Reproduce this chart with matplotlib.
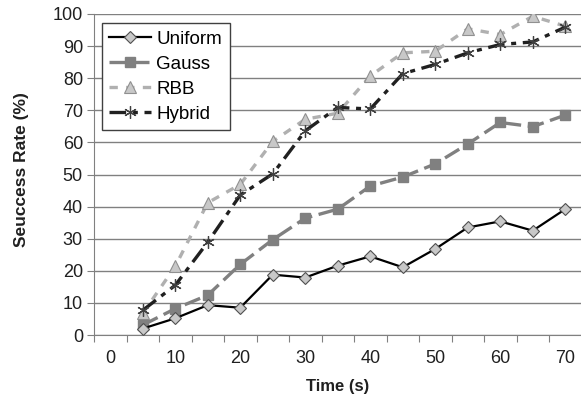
import matplotlib
matplotlib.use("Agg")
import matplotlib.pyplot as plt

plt.rcParams['font.family'] = ['Liberation Sans', 'DejaVu Sans']

times = [5, 10, 15, 20, 25, 30, 35, 40, 45, 50, 55, 60, 65, 70]
uniform = [2.0, 5.2, 9.3, 8.5, 18.8, 17.9, 21.6, 24.5, 21.1, 26.8, 33.5, 35.4, 32.5, 39.2]
gauss = [3.1, 8.2, 12.4, 22.0, 29.7, 36.4, 39.2, 46.4, 49.2, 53.3, 59.5, 66.2, 64.9, 68.5]
rbb = [6.7, 21.4, 41.2, 46.9, 60.3, 67.2, 69.1, 80.7, 87.9, 88.4, 95.4, 93.6, 99.3, 96.2]
hybrid = [7.7, 15.5, 28.9, 43.6, 50.2, 63.6, 70.9, 70.4, 81.4, 84.3, 87.9, 90.5, 91.3, 95.9]
xlabels = [0, 10, 20, 30, 40, 50, 60, 70]
yticks = [0, 10, 20, 30, 40, 50, 60, 70, 80, 90, 100]

fig = plt.figure(figsize=(5.81, 4.0), dpi=100)
ax = fig.add_axes([94/581, 65/400, (581.5-94)/581, (335-14)/400])

ax.plot(times, uniform, color='black', lw=1.6, marker='D', ms=6,
        mfc='#c8c8c8', mec='#505050', mew=0.8, label='Uniform', zorder=5)
ax.plot(times, gauss, color='#808080', lw=2.4, dashes=(5, 2), marker='s', ms=7,
        mfc='#808080', mec='#808080', label='Gauss', zorder=4)
ax.plot(times, rbb, color='#b0b0b0', lw=2.4, dashes=(2.5, 2.5), marker='^', ms=9,
        mfc='#c8c8c8', mec='#909090', mew=0.8, label='RBB', zorder=3)
ax.plot(times, hybrid, color='#202020', lw=2.4, dashes=(5, 2, 1.5, 2), marker=(6, 2, 0), ms=9,
        mfc='none', mec='#404040', mew=0.9, label='Hybrid', zorder=4)

ax.set_xlim(-2.5, 72.5)
ax.set_ylim(0, 100)
ax.set_yticks(yticks)
ax.tick_params(axis='y', direction='out', length=5, color='#808080', labelsize=13,
               pad=3, labelcolor='#202020')
ax.set_xticks([x - 2.5 for x in range(0, 80, 5)] + [72.5])
ax.set_xticklabels([])
ax.tick_params(axis='x', direction='out', length=5, color='#808080')
for v in xlabels:
    ax.text(v, -4.6, str(v), ha='center', va='top', fontsize=13,
            transform=ax.transData, color='#202020')

ax.grid(axis='y', color='#808080', lw=1)
ax.set_axisbelow(True)
for s in ['top', 'right']:
    ax.spines[s].set_visible(False)
for s in ['left', 'bottom']:
    ax.spines[s].set_color('#808080')

ax.set_xlabel('Time (s)', fontsize=12, fontweight='bold', color='#202020')
ax.xaxis.set_label_coords(0.5, -0.138)
ax.set_ylabel('Seuccess Rate (%)', fontsize=12.5, fontweight='bold', color='#202020',
              va='center')
ax.yaxis.set_label_coords(-0.148, 0.515)

leg = ax.legend(loc='upper left', bbox_to_anchor=(0.0164, 0.972), borderaxespad=0,
                fontsize=13.5, frameon=True, fancybox=False, edgecolor='#404040',
                handlelength=2.2, labelspacing=0.42, borderpad=0.4,
                handletextpad=0.3, framealpha=1)
leg.get_frame().set_linewidth(1)

fig.savefig('out.png', dpi=100)
